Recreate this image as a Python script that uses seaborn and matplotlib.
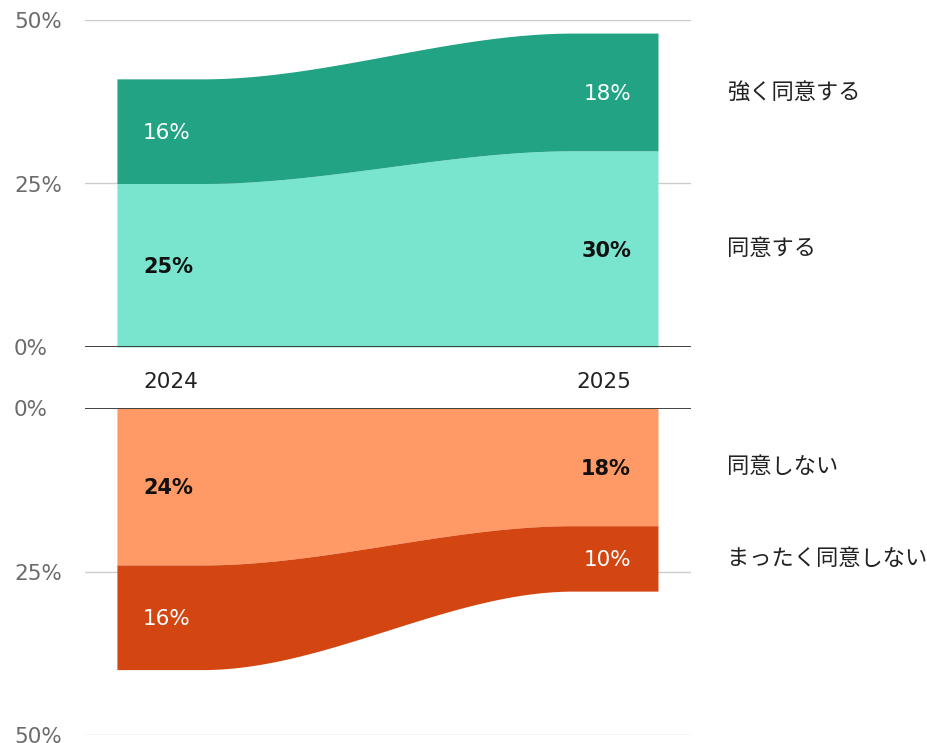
import numpy as np
import matplotlib
matplotlib.use("Agg")
import matplotlib.pyplot as plt
import matplotlib.transforms as mtransforms
import seaborn as sns

years = ["2024", "2025"]
strongly_agree = [16, 18]
agree = [25, 30]
disagree = [24, 18]
strongly_disagree = [16, 10]
cat_labels = ["強く同意する", "同意する", "同意しない", "まったく同意しない"]
tick_vals = [0, 25, 50]

sns.set_theme(style="white")
plt.rcParams['font.family'] = ['DejaVu Sans', 'Noto Sans CJK JP']

c_sa = "#21a384"
c_a = "#7ae5cf"
c_d = "#ff9966"
c_sd = "#d34612"

W, H = 927, 743
fig = plt.figure(figsize=(W / 100, H / 100), dpi=100)
ax_top = fig.add_axes([85 / W, (H - 347) / H, 606 / W, 327 / H])
ax_bot = fig.add_axes([85 / W, (H - 735) / H, 606 / W, 327 / H])

# smooth link between the two year columns
xs = np.linspace(0, 1, 400)
w = 0.157


def link(v0, v1):
    t = np.clip((xs - w) / (1 - 2 * w), 0, 1)
    s = 3 * t ** 2 - 2 * t ** 3
    return v0 + (v1 - v0) * s


a_top = link(agree[0], agree[1])
sa_top = link(agree[0] + strongly_agree[0], agree[1] + strongly_agree[1])
d_top = link(disagree[0], disagree[1])
sd_top = link(disagree[0] + strongly_disagree[0], disagree[1] + strongly_disagree[1])

for ax in (ax_top, ax_bot):
    ax.set_xlim(-0.059, 1.061)
    for v in tick_vals[1:]:
        ax.axhline(v, color="#cccccc", lw=1, zorder=0)
    ax.axhline(0, color="#333333", lw=1.3, zorder=3)
    ax.set_xticks([])
    ax.set_yticks([])
    sns.despine(ax=ax, left=True, bottom=True)
    trans = mtransforms.blended_transform_factory(fig.transFigure, ax.transData)
    for v in tick_vals:
        ax.text(14 / W, v, f"{v}%", transform=trans, ha="left", va="center_baseline",
                fontsize=15.5, color="#6b6b6b", clip_on=False)

ax_top.set_ylim(0, 50)
ax_bot.set_ylim(50, 0)

ax_top.fill_between(xs, 0, a_top, color=c_a, lw=0, zorder=1)
ax_top.fill_between(xs, a_top, sa_top, color=c_sa, lw=0, zorder=1)
ax_bot.fill_between(xs, 0, d_top, color=c_d, lw=0, zorder=1)
ax_bot.fill_between(xs, d_top, sd_top, color=c_sd, lw=0, zorder=1)

fs = 15.5
lx = [0.048, 0.95]
ha = ["left", "right"]
va = "center_baseline"
for i in range(2):
    ax_top.text(lx[i], agree[i] / 2, f"{agree[i]}%", ha=ha[i], va=va,
                fontsize=15, fontweight="bold", color="#111111")
    ax_top.text(lx[i], agree[i] + strongly_agree[i] / 2, f"{strongly_agree[i]}%",
                ha=ha[i], va=va, fontsize=fs, color="white")
    ax_bot.text(lx[i], disagree[i] / 2, f"{disagree[i]}%", ha=ha[i], va=va,
                fontsize=15, fontweight="bold", color="#111111")
    ax_bot.text(lx[i], disagree[i] + strongly_disagree[i] / 2, f"{strongly_disagree[i]}%",
                ha=ha[i], va=va, fontsize=fs, color="white")
    ax_top.text(lx[i], -5.05, years[i], ha=ha[i], va=va, fontsize=fs,
                color="#222222", clip_on=False)

cx = 1.128
jfs = 16
ax_top.text(cx, agree[1] + strongly_agree[1] / 2, cat_labels[0], ha="left", va="center",
            fontsize=jfs, color="#222222", clip_on=False)
ax_top.text(cx, agree[1] / 2, cat_labels[1], ha="left", va="center",
            fontsize=jfs, color="#222222", clip_on=False)
ax_bot.text(cx, disagree[1] / 2, cat_labels[2], ha="left", va="center",
            fontsize=jfs, color="#222222", clip_on=False)
ax_bot.text(cx, disagree[1] + strongly_disagree[1] / 2, cat_labels[3], ha="left", va="center",
            fontsize=jfs, color="#222222", clip_on=False)

fig.savefig("out.png", dpi=100)
